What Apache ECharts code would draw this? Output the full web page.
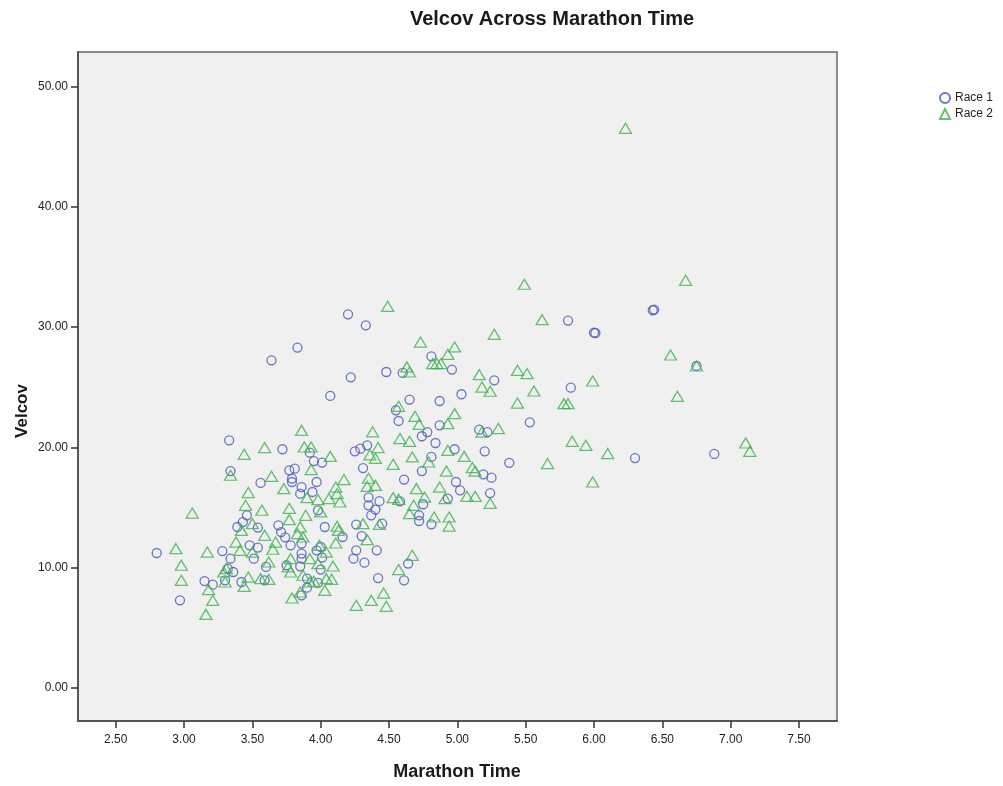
<!DOCTYPE html>
<html>
<head>
<meta charset="utf-8">
<title>Velcov Across Marathon Time</title>
<script src="https://cdn.jsdelivr.net/npm/echarts@6/dist/echarts.min.js"></script>
<style>
html,body{margin:0;padding:0;background:#fff;}
#chart{width:1003px;height:786px;}
</style>
</head>
<body>
<div id="chart"></div>
<script>
// race 1 (circles)
var race1Time = [3.46,3.43,3.39,3.54,3.69,3.71,3.74,2.80,3.28,3.48,3.54,3.51,3.34,3.60,3.75,3.32,3.36,3.59,3.15,3.21,3.30,3.42,2.97,
	4.22,4.07,3.33,3.72,3.92,3.95,4.01,4.25,4.29,4.34,4.31,3.34,3.77,3.81,3.79,3.79,3.97,3.56,3.86,3.94,3.85,4.35,
	5.27,5.03,4.65,4.87,4.55,4.57,4.87,4.78,5.16,5.22,4.74,4.84,4.98,5.20,4.81,5.38,4.74,5.19,5.25,4.61,4.99,5.02,5.24,4.93,4.58,4.43,
	3.98,4.35,4.75,4.37,4.40,4.72,4.72,4.81,4.03,4.26,4.45,4.16,4.30,3.78,3.86,4.00,3.97,4.26,4.41,3.86,3.86,4.01,4.24,4.32,4.64,3.85,4.00,3.90,4.42,4.61,3.98,3.90,3.86,
	6.43,6.44,5.81,6.00,6.01,6.75,5.83,5.53,6.30,6.88,
	3.64,3.83,4.20,4.33,4.81,4.96,4.48,4.60];
var race1Velcov = [14.35,13.79,13.38,13.33,13.52,12.96,12.52,11.22,11.38,11.86,11.67,10.75,10.75,10.06,10.20,9.92,9.64,8.95,8.89,8.59,8.95,8.81,7.29,
	25.82,24.27,20.58,19.84,19.56,18.86,18.73,19.67,19.89,20.17,18.28,18.03,18.09,18.23,17.40,17.12,17.12,17.04,16.70,16.29,16.15,15.85,
	25.57,24.41,23.97,23.85,23.08,22.19,21.83,21.27,21.47,21.27,20.92,20.36,19.84,19.67,19.20,18.71,18.03,17.76,17.48,17.32,17.12,16.43,16.20,15.74,15.51,15.53,
	14.77,15.18,15.27,14.35,14.83,14.35,13.88,13.60,13.38,13.58,13.66,12.55,12.63,11.86,12.00,11.72,11.44,11.44,11.44,11.17,10.75,10.84,10.75,10.42,10.34,10.11,9.84,9.09,9.14,8.95,8.73,8.34,7.70,
	31.39,31.45,30.53,29.53,29.50,26.76,24.96,22.08,19.11,19.45,
	27.23,28.29,31.05,30.14,27.56,26.46,26.26,26.18];

// race 2 (triangles)
var race2Time = [3.06,3.45,3.57,3.50,3.42,3.59,3.38,3.67,2.94,3.17,3.41,3.50,3.65,2.98,3.62,3.31,3.29,3.47,3.56,3.62,2.98,3.30,3.44,3.18,3.21,3.16,
	3.86,3.44,3.59,3.88,3.93,4.07,4.38,4.36,3.34,3.64,3.93,3.73,3.47,4.17,4.11,4.12,4.35,4.34,3.90,3.98,4.06,4.14,3.77,
	5.18,5.24,4.57,5.44,4.98,4.69,4.72,4.93,5.30,5.18,4.58,4.65,4.42,4.93,5.05,4.40,4.67,4.79,4.53,5.11,5.13,4.92,4.40,4.70,4.87,4.53,4.57,4.76,5.07,5.13,4.91,5.24,4.94,4.94,
	3.77,4.00,4.68,3.89,4.65,4.83,3.85,4.12,4.13,4.31,4.43,3.83,3.87,4.34,4.11,3.99,4.04,3.78,3.92,4.67,3.98,4.09,3.76,3.78,4.57,3.87,4.04,4.08,3.92,3.95,4.03,3.85,3.79,4.46,4.37,4.26,4.48,
	5.49,6.67,5.62,6.56,6.75,5.44,5.51,5.99,5.56,6.61,5.78,5.81,5.84,5.94,6.10,7.11,7.14,5.66,5.99,6.23,
	4.49,4.73,4.98,4.93,4.82,4.85,4.88,5.27,5.16,4.63,4.65];
var race2Velcov = [14.54,15.18,14.77,13.66,13.10,12.69,12.13,12.13,11.58,11.30,11.44,11.30,11.53,10.20,10.47,9.92,9.64,9.22,9.09,9.03,8.95,8.81,8.45,8.18,7.29,6.12,
	21.41,19.42,19.98,20.03,20.03,19.25,21.29,19.38,17.68,17.59,18.15,16.57,16.24,17.32,16.70,16.15,17.43,16.76,15.82,15.66,15.74,15.46,14.93,
	25.01,24.66,23.41,23.68,22.80,22.58,21.91,21.97,21.56,21.27,20.73,20.50,19.98,19.75,19.25,19.09,19.20,18.78,18.59,18.32,18.03,18.03,16.84,16.57,16.70,15.82,15.68,15.87,15.93,15.93,15.74,15.35,14.21,13.46,
	13.99,14.63,15.18,14.35,14.49,14.21,13.38,13.44,13.10,13.66,13.60,12.83,12.55,12.33,12.05,11.86,11.30,10.75,10.75,11.03,10.34,10.14,10.06,9.64,9.84,9.37,9.09,9.03,8.81,8.87,8.12,7.98,7.48,7.89,7.29,6.87,6.79,
	33.55,33.88,30.61,27.67,26.76,26.40,26.13,25.51,24.68,24.24,23.63,23.63,20.50,20.17,19.48,20.36,19.67,18.65,17.12,46.51,
	31.72,28.75,28.34,27.73,26.96,26.96,26.96,29.39,26.04,26.68,26.26];

// tick labels
var xTicks = [2.5,3,3.5,4,4.5,5,5.5,6,6.5,7,7.5];
var yTicks = [0,10,20,30,40,50];

function pairs(xs, ys){
	var out = [];
	for(var i=0;i<xs.length;i++){ out.push([xs[i], ys[i]]); }
	return out;
}

var font = "'Liberation Sans', Arial, sans-serif";
var myChart = echarts.init(document.getElementById('chart'));

var option = {
	backgroundColor: '#ffffff',
	animation: false,
	title: {
		text: 'Velcov Across Marathon Time',
		left: 547,
		top: 4,
		textAlign: 'center',
		textStyle: {fontFamily: font, fontSize: 20, fontWeight: 'bold', color: '#1a1a1a'}
	},
	legend: {
		orient: 'vertical',
		left: 939,
		top: 92,
		itemWidth: 10,
		itemHeight: 10,
		itemGap: 4,
		padding: 0,
		textStyle: {fontFamily: font, fontSize: 12, color: '#222'},
		data: ['Race 1','Race 2']
	},
	grid: {
		left: 78,
		right: 166,
		top: 52,
		bottom: 65,
		show: true,
		backgroundColor: '#f0f0f0',
		borderColor: '#6a6a6a',
		borderWidth: 1.5
	},
	xAxis: {
		type: 'value',
		min: 2.224,
		max: 7.778,
		axisLine: {show: true, onZero: false, lineStyle: {color: '#555', width: 2}},
		axisTick: {show: true, customValues: xTicks, length: 7, lineStyle: {color: '#333', width: 1.5}},
		axisLabel: {
			customValues: xTicks,
			margin: 13,
			fontFamily: font, fontSize: 12, color: '#222',
			formatter: function(v){ return v.toFixed(2); }
		},
		splitLine: {show: false}
	},
	yAxis: {
		type: 'value',
		min: -2.74,
		max: 52.85,
		axisLine: {show: true, onZero: false, lineStyle: {color: '#555', width: 2}},
		axisTick: {show: true, customValues: yTicks, length: 7, lineStyle: {color: '#333', width: 1.5}},
		axisLabel: {
			customValues: yTicks,
			margin: 10,
			fontFamily: font, fontSize: 12, color: '#222',
			formatter: function(v){ return v.toFixed(2); }
		},
		splitLine: {show: false}
	},
	// axis titles
	graphic: [
		{
			type: 'text', x: 457, y: 772,
			style: {text: 'Marathon Time', fontFamily: font, fontSize: 18, fontWeight: 'bold', fill: '#1a1a1a', align: 'center', verticalAlign: 'middle'}
		},
		{
			type: 'text', x: 22, y: 411, rotation: Math.PI / 2,
			style: {text: 'Velcov', fontFamily: font, fontSize: 17, fontWeight: 'bold', fill: '#1a1a1a', align: 'center', verticalAlign: 'middle'}
		}
	],
	series: [
		{
			name: 'Race 1',
			type: 'scatter',
			symbol: 'circle',
			symbolSize: 9,
			itemStyle: {color: 'rgba(0,0,0,0)', borderColor: '#4657b8', borderWidth: 1.3},
			data: pairs(race1Time, race1Velcov)
		},
		{
			name: 'Race 2',
			type: 'scatter',
			symbol: 'triangle',
			symbolSize: [12, 10],
			itemStyle: {color: 'rgba(0,0,0,0)', borderColor: '#3cb44b', borderWidth: 1.3},
			data: pairs(race2Time, race2Velcov)
		}
	]
};

myChart.setOption(option);
</script>
</body>
</html>
